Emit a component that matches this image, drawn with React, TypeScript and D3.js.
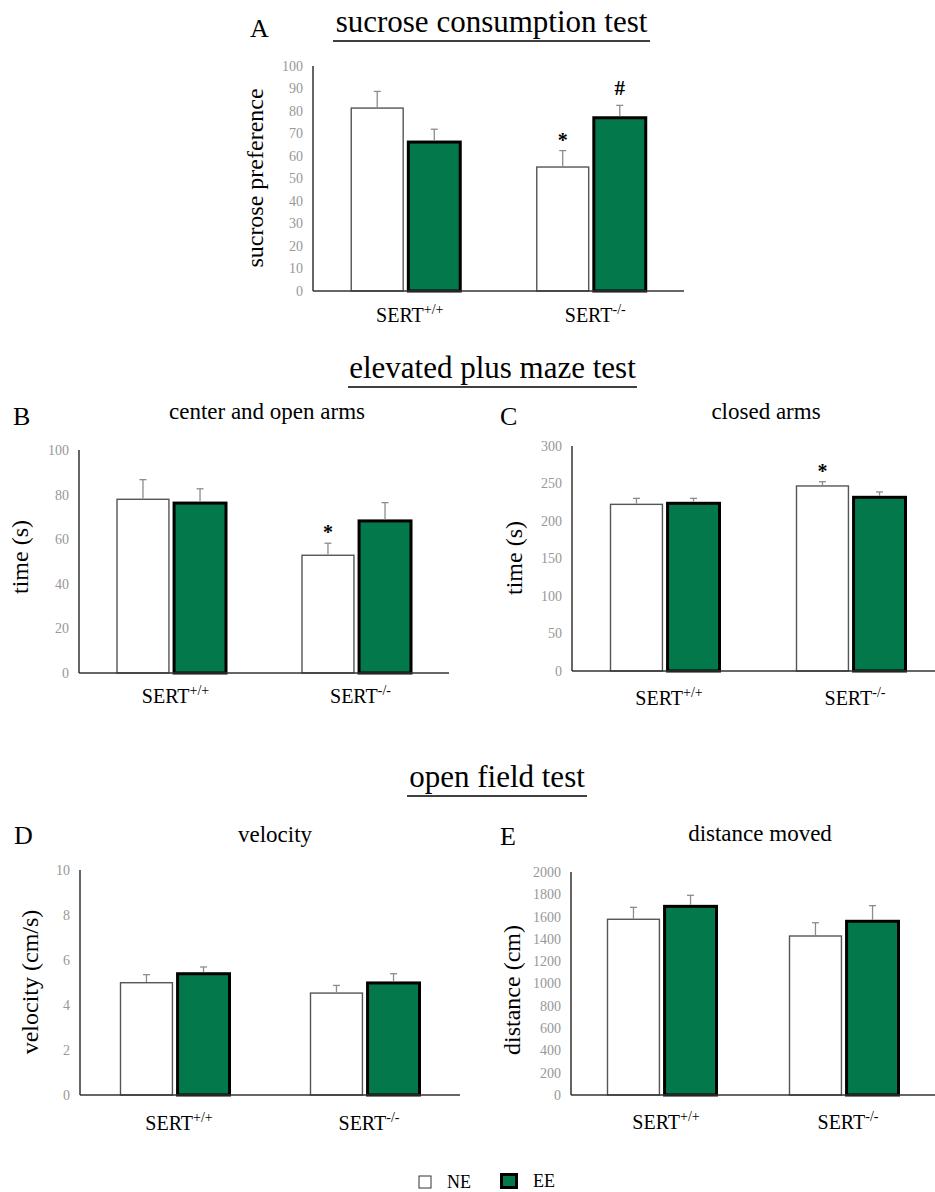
import React from "react";
import * as d3 from "d3";

// groups and series
const groups = ["SERT", "SERT"];
const groupSup = ["+/+", "-/-"];
const series = ["NE", "EE"];
const colors = { NE: "#ffffff", EE: "#03784a" };

// A: sucrose consumption
const sucroseNE = [81.3, 55.1];
const sucroseEE = [66.2, 77.0];
const sucroseNEerr = [7.4, 7.3];
const sucroseEEerr = [5.7, 5.5];
const sucroseNEmark = ["", "*"];
const sucroseEEmark = ["", "#"];
const sucroseTicks = [0, 10, 20, 30, 40, 50, 60, 70, 80, 90, 100];

// B: center and open arms
const centerNE = [77.9, 52.8];
const centerEE = [76.2, 68.2];
const centerNEerr = [8.8, 5.4];
const centerEEerr = [6.4, 8.2];
const centerNEmark = ["", "*"];
const centerEEmark = ["", ""];
const centerTicks = [0, 20, 40, 60, 80, 100];

// C: closed arms
const closedNE = [222.2, 246.7];
const closedEE = [223.6, 231.6];
const closedNEerr = [8.0, 5.7];
const closedEEerr = [6.6, 7.1];
const closedNEmark = ["", "*"];
const closedEEmark = ["", ""];
const closedTicks = [0, 50, 100, 150, 200, 250, 300];

// D: velocity
const velocityNE = [4.99, 4.53];
const velocityEE = [5.39, 4.98];
const velocityNEerr = [0.36, 0.34];
const velocityEEerr = [0.3, 0.41];
const velocityTicks = [0, 2, 4, 6, 8, 10];

// E: distance moved
const distanceNE = [1576, 1426];
const distanceEE = [1692, 1558];
const distanceNEerr = [107, 119];
const distanceEEerr = [99, 140];
const distanceTicks = [0, 200, 400, 600, 800, 1000, 1200, 1400, 1600, 1800, 2000];

const font = "'Liberation Serif', 'Times New Roman', serif";

const panels = [
  {
    letter: "A", letterX: 250, letterY: 37,
    title: null, titleX: 0, titleY: 0,
    yLabel: "sucrose preference", yLabelX: 263, yLabelY: 178,
    left: 313, width: 371, top: 66, base: 291, ticks: sucroseTicks, xLabelY: 322,
    ne: sucroseNE, ee: sucroseEE, neErr: sucroseNEerr, eeErr: sucroseEEerr,
    neMark: sucroseNEmark, eeMark: sucroseEEmark,
  },
  {
    letter: "B", letterX: 13, letterY: 425,
    title: "center and open arms", titleX: 267, titleY: 419,
    yLabel: "time (s)", yLabelX: 28, yLabelY: 557,
    left: 79, width: 370, top: 450, base: 673, ticks: centerTicks, xLabelY: 703,
    ne: centerNE, ee: centerEE, neErr: centerNEerr, eeErr: centerEEerr,
    neMark: centerNEmark, eeMark: centerEEmark,
  },
  {
    letter: "C", letterX: 500, letterY: 425,
    title: "closed arms", titleX: 766, titleY: 419,
    yLabel: "time (s)", yLabelX: 522, yLabelY: 558,
    left: 572, width: 372, top: 446, base: 671, ticks: closedTicks, xLabelY: 705,
    ne: closedNE, ee: closedEE, neErr: closedNEerr, eeErr: closedEEerr,
    neMark: closedNEmark, eeMark: closedEEmark,
  },
  {
    letter: "D", letterX: 14, letterY: 844,
    title: "velocity", titleX: 275, titleY: 842,
    yLabel: "velocity (cm/s)", yLabelX: 38, yLabelY: 982,
    left: 80, width: 380, top: 870, base: 1095, ticks: velocityTicks, xLabelY: 1130,
    ne: velocityNE, ee: velocityEE, neErr: velocityNEerr, eeErr: velocityEEerr,
    neMark: ["", ""], eeMark: ["", ""],
  },
  {
    letter: "E", letterX: 500, letterY: 845,
    title: "distance moved", titleX: 760, titleY: 841,
    yLabel: "distance (cm)", yLabelX: 520, yLabelY: 990,
    left: 571, width: 364, top: 872, base: 1095, ticks: distanceTicks, xLabelY: 1129,
    ne: distanceNE, ee: distanceEE, neErr: distanceNEerr, eeErr: distanceEEerr,
    neMark: ["", ""], eeMark: ["", ""],
  },
];

const sections = [
  { text: "sucrose consumption test", cx: 491.5, y: 32, x1: 333, x2: 650 },
  { text: "elevated plus maze test", cx: 492.5, y: 378, x1: 348, x2: 637 },
  { text: "open field test", cx: 497, y: 787, x1: 407, x2: 587 },
];

function Panel({ p }: { p: any }) {
  const max = p.ticks[p.ticks.length - 1];
  const y = d3.scaleLinear().domain([0, max]).range([p.base, p.top]);
  const x0 = d3
    .scaleBand()
    .domain(groups.map((_, i) => String(i)))
    .range([p.left, p.left + p.width]);
  const span = 109;
  const x1 = d3.scaleBand().domain(series).range([-span / 2, span / 2]).paddingInner(0.09);

  const bars = groups.flatMap((_, i) =>
    series.map((s) => {
      const mean = s === "NE" ? p.ne[i] : p.ee[i];
      const err = s === "NE" ? p.neErr[i] : p.eeErr[i];
      const mark = s === "NE" ? p.neMark[i] : p.eeMark[i];
      const gx = x0(String(i))! + x0.bandwidth() / 2;
      const bx = gx + x1(s)!;
      return { key: `${i}-${s}`, s, mean, err, mark, bx, cx: bx + x1.bandwidth() / 2 };
    })
  );

  return (
    <g fontFamily={font}>
      <text x={p.letterX} y={p.letterY} fontSize={26}>{p.letter}</text>
      {p.title && (
        <text x={p.titleX} y={p.titleY} fontSize={23} textAnchor="middle">{p.title}</text>
      )}
      <text
        transform={`translate(${p.yLabelX},${p.yLabelY}) rotate(-90)`}
        fontSize={24}
        textAnchor="middle"
      >
        {p.yLabel}
      </text>
      {p.ticks.map((t: number) => (
        <text key={t} x={p.left - 10} y={y(t)} dy="0.35em" fontSize={14} fill="#979797" textAnchor="end">
          {t}
        </text>
      ))}
      {bars.map((b) => (
        <rect
          key={b.key}
          x={b.bx}
          y={y(b.mean)}
          width={x1.bandwidth()}
          height={y(0) - y(b.mean)}
          fill={colors[b.s as "NE" | "EE"]}
          stroke={b.s === "NE" ? "#555" : "#000"}
          strokeWidth={b.s === "NE" ? 1.4 : 3}
        />
      ))}
      {bars.map((b) => (
        <g key={"e" + b.key} stroke="#8c8c8c" strokeWidth={1.3}>
          <line x1={b.cx} x2={b.cx} y1={y(b.mean) - (b.s === "EE" ? 1.5 : 0.7)} y2={y(b.mean + b.err)} />
          <line x1={b.cx - 3.5} x2={b.cx + 3.5} y1={y(b.mean + b.err)} y2={y(b.mean + b.err)} />
        </g>
      ))}
      {bars
        .filter((b) => b.mark)
        .map((b) => (
          <text
            key={"m" + b.key}
            x={b.cx}
            y={y(b.mean + b.err) - (b.mark === "#" ? 10 : 4)}
            fontSize={b.mark === "#" ? 21 : 20}
            fontWeight="bold"
            textAnchor="middle"
          >
            {b.mark}
          </text>
        ))}
      <line x1={p.left} x2={p.left} y1={p.top} y2={p.base} stroke="#333" strokeWidth={1.5} />
      <line x1={p.left} x2={p.left + p.width} y1={p.base} y2={p.base} stroke="#333" strokeWidth={1.5} />
      {groups.map((g, i) => (
        <text
          key={"x" + i}
          x={x0(String(i))! + x0.bandwidth() / 2 + 4}
          y={p.xLabelY}
          fontSize={20}
          textAnchor="middle"
        >
          {g}
          <tspan fontSize={14} dy={-8}>{groupSup[i]}</tspan>
        </text>
      ))}
    </g>
  );
}

export default function App() {
  return (
    <svg
      width={935}
      height={1192}
      style={{ position: "absolute", left: 0, top: 0, display: "block", background: "#fff" }}
    >
      <rect width={935} height={1192} fill="#fff" />
      {sections.map((s) => (
        <g key={s.text} fontFamily={font}>
          <text x={s.cx} y={s.y} fontSize={31} textAnchor="middle">{s.text}</text>
          <line x1={s.x1} x2={s.x2} y1={s.y + 9} y2={s.y + 9} stroke="#000" strokeWidth={1.5} />
        </g>
      ))}
      {panels.map((p) => (
        <Panel key={p.letter} p={p} />
      ))}
      {/* legend */}
      <g fontFamily={font} fontSize={18}>
        <rect x={419} y={1176} width={12} height={12} fill={colors.NE} stroke="#333" strokeWidth={1} />
        <text x={447} y={1188}>{series[0]}</text>
        <rect x={501.5} y={1174.5} width={15} height={13} fill={colors.EE} stroke="#000" strokeWidth={3} />
        <text x={533} y={1187}>{series[1]}</text>
      </g>
    </svg>
  );
}
